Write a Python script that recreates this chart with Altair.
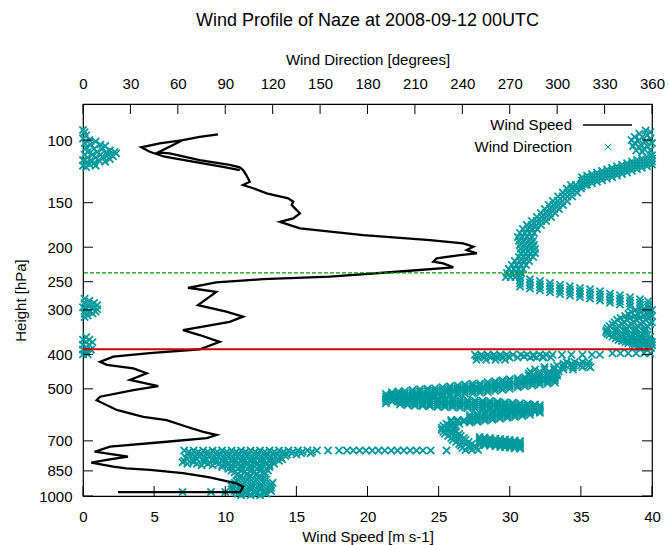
import altair as alt
import pandas as pd

FONT = "Liberation Sans"
TEAL = "#009a9e"

# ---------------- axis tick values ----------------
SPEED_TICKS = [0, 5, 10, 15, 20, 25, 30, 35, 40]
DIR_TICKS = [0, 30, 60, 90, 120, 150, 180, 210, 240, 270, 300, 330, 360]
PRESSURE_TICKS = [100, 150, 200, 250, 300, 400, 500, 700, 850, 1000]

# ---------------- reference levels (hPa) ----------------
GREEN_LEVEL = [236]
RED_LEVEL = [387]

# ---------------- wind speed profile, in sounding order ----------------
SPEED_P = [975, 975, 962, 942, 921, 886, 863, 845, 836, 827, 806, 792, 775, 751, 727,
           704, 688, 674, 660, 639, 612, 599, 573, 538, 526, 504, 491, 472, 452, 438,
           428, 420, 406, 397, 387, 369, 353, 342, 324, 313.5, 303.5, 291, 267, 260, 251,
           246, 242, 234.4, 227.8, 222, 219.7, 215, 210.4, 208.2, 203.7, 199.4, 195.1, 191, 185,
           177, 173.3, 169.7, 166, 160.7, 152.3, 149, 145.8, 141.2, 136.6, 133.8, 131, 125.4,
           121.4, 119.3, 117.5, 113.8, 109, 108.3, 100, 97.9, 96.4, 97.9, 100, 102.2, 104.8,
           107.9, 111.4, 115, 118.9, 121.4]
SPEED_V = [2.46, 11.04, 11.13, 11.25, 10.78, 8.91, 7.03, 4.71, 3.04, 2.13, 0.58, 1.67, 3.16, 0.82, 1.90,
           5.88, 8.70, 9.40, 8.46, 7.29, 5.88, 4.24, 2.37, 0.96, 1.20, 3.54, 5.29, 3.30, 4.48, 3.54,
           1.67, 1.20, 2.13, 4.69, 8.22, 9.61, 8.20, 7.03, 10.31, 11.25, 10.07, 8.08, 9.37, 7.38, 9.37,
           12.65, 17.36, 22.05, 26.03, 25.33, 24.63, 24.86, 26.50, 27.68, 26.97, 27.44, 26.73, 24.39, 19.70,
           15.25, 14.55, 13.85, 14.78, 15.25, 14.67, 14.78, 14.43, 12.91, 11.97, 11.25, 11.72, 11.48,
           11.25, 11.02, 10.31, 8.20, 6.09, 5.27, 7.03, 8.20, 9.49, 8.20, 7.03, 5.39, 4.10,
           4.69, 5.74, 7.73, 9.84, 11.02]

# ---------------- wind direction samples ----------------
# pairs: (pressure hPa, direction deg)
DIR_TOP_LEFT = [(93.7, 0), (95, 1), (97, 2), (99, 0), (100, 4), (101, 8), (102, 1), (103, 5), (103, 11),
                (104, 14), (105, 2), (106, 7), (106, 12), (107, 17), (108, 3), (108, 9), (108, 15),
                (108, 20), (109, 21), (110, 1), (110, 6), (110, 11), (110, 16), (111, 19), (112, 3),
                (112, 8), (112, 13), (113, 17), (114, 0), (114, 5), (114, 10), (115, 14), (116, 2),
                (116, 7), (117, 4), (118, 0), (118, 8), (119, 2)]
DIR_TOP_RIGHT = [(94, 356), (95, 359), (96, 352), (97, 357), (98, 349), (98, 354), (99, 359), (100, 347),
                 (100, 352), (101, 356), (102, 349), (102, 360), (103, 353), (104, 348), (104, 357),
                 (105, 352), (106, 355), (107, 350), (107, 359), (108, 354)]
DIR_WRAP_300 = [(279, 1), (283, 4), (287, 1), (287, 7), (291, 3), (291, 9), (295, 0), (295, 6), (299, 2),
                (299, 9), (303, 4), (303, 8), (307, 1), (307, 6), (311, 3), (314, 1)]
DIR_LEFT_380 = [(358, 2), (364, 0), (364, 4), (370, 2), (370, 6), (376, 0), (376, 4), (382, 2), (388, 0),
                (388, 5), (394, 2), (400, 0), (400, 3)]

# columns: (direction deg, [pressures hPa])
DIR_BAND_UPPER = [
    (360.0, [110.4, 112.7, 114.9, 117.2]), (356.8, [111.6, 113.9, 116.2, 118.5]),
    (353.6, [112.6, 114.9, 117.3, 119.6]), (350.5, [113.8, 116.1, 118.5, 120.8]),
    (347.3, [114.8, 117.2, 119.6, 122.0]), (344.2, [116.1, 118.5, 120.9, 123.3]),
    (341.0, [117.3, 119.7, 122.1, 124.5]), (337.8, [118.4, 120.9, 123.3, 125.8]),
    (334.7, [119.7, 122.2, 124.6, 127.1]), (331.5, [120.9, 123.4, 125.8, 128.3]),
    (328.4, [122.1, 124.6, 127.2, 129.7]), (325.2, [123.3, 125.8, 128.4, 130.9]),
    (322.0, [124.5, 127.1, 129.7, 132.3]), (318.9, [125.8, 128.4, 131.0, 133.6]),
    (315.7, [127.2, 129.8, 132.4, 135.0])]
DIR_BAND_RETURN = [
    (276.5, [243.0, 248.0, 253.0, 258.0]), (282.8, [246.0, 251.1, 256.1, 261.2]),
    (289.1, [248.9, 254.0, 259.2, 264.3]), (295.5, [252.1, 257.3, 262.5, 267.7]),
    (301.8, [255.0, 260.3, 265.5, 270.8]), (308.1, [257.5, 262.8, 268.2, 273.5]),
    (314.4, [260.2, 265.5, 270.9, 276.2]), (320.8, [262.6, 268.0, 273.4, 278.8]),
    (327.1, [266.1, 271.6, 277.0, 282.5]), (333.4, [269.7, 275.2, 280.8, 286.3]),
    (339.7, [273.0, 278.6, 284.2, 289.8]), (346.1, [276.5, 282.2, 287.9, 293.6]),
    (352.4, [280.1, 285.9, 291.7, 297.5]), (357.5, [283.8, 289.7, 295.5, 301.4])]
DIR_DIAG_500 = [
    (298.6, [452, 459, 466, 473, 480]), (294, [455, 462, 469, 476, 483]), (289, [458, 465, 472, 479, 486]),
    (284.3, [461, 468, 475, 482, 489]), (279.6, [464, 471, 478, 485, 492]), (275, [467, 474, 481, 488, 495]),
    (270, [470, 477, 485, 492, 500]), (265.4, [473, 480, 488, 495, 503]), (260.7, [476, 483, 491, 498, 506]),
    (256, [479, 487, 494, 502, 510]), (251.2, [483, 490, 498, 505, 513]), (246.5, [484, 492, 500, 507, 515]),
    (241.7, [486, 494, 501, 509, 516]), (237, [489, 497, 504, 512, 519]), (232.2, [492, 500, 507, 515, 522]),
    (227.5, [495, 503, 510, 518, 525]), (222.7, [498, 506, 513, 521, 528]), (218, [500, 507, 515, 523, 531]),
    (213.2, [501, 509, 517, 525, 533]), (208.5, [504, 512, 520, 528, 536]), (203.7, [507, 515, 523, 531, 539]),
    (199.6, [509, 517, 525, 533, 541]), (195.5, [511, 519, 527, 535, 543]), (191.7, [517, 525, 533, 541, 549])]
DIR_BAND_550 = [
    (200.6, [527, 534, 540, 546, 553]), (205.3, [529, 536, 542, 548, 555]), (210, [530, 537, 544, 551, 558]),
    (214.8, [531, 538, 545, 552, 559]), (219.5, [532, 539, 546, 553, 560]), (224.3, [533, 540, 547, 554, 561]),
    (229, [534, 541, 548, 555, 562]), (233.8, [535, 542, 549, 556, 563]), (238.5, [537, 544, 551, 558, 565]),
    (243.3, [538, 545, 552, 559, 566]), (248, [539, 546, 553, 560, 567]), (252.8, [540, 547, 554, 561, 568]),
    (257.5, [541, 548, 555, 562, 569]), (262.3, [543, 550, 557, 564, 571]), (267, [545, 552, 559, 566, 573]),
    (271.8, [547, 554, 561, 568, 575]), (276.5, [549, 556, 563, 570, 577]), (281.3, [551, 558, 565, 572, 579]),
    (286, [553, 560, 567, 574, 581]), (289, [556, 563, 570, 577, 584])]
DIR_BAND_600 = [
    (282.8, [563, 570, 577, 584, 591]), (278, [566, 574, 581, 588, 596]), (273.3, [570, 577, 585, 592, 600]),
    (268.5, [573, 581, 588, 596, 603]), (263.8, [577, 585, 592, 600, 607]), (259, [581, 589, 596, 604, 611]),
    (254.3, [585, 592, 600, 608, 615]), (249.5, [588, 596, 603, 611, 619]), (244.8, [592, 600, 607, 615, 622])]
DIR_BAND_710 = [
    (251, [683, 691, 700, 708, 717]), (254, [685, 693, 702, 711, 720]), (257.5, [687, 696, 705, 714, 723]),
    (261, [690, 699, 708, 716, 725]), (264, [692, 701, 710, 719, 728]), (267, [694, 703, 712, 721, 730]),
    (270, [696, 705, 714, 723, 732]), (273, [698, 707, 716, 725, 734]), (276.5, [701, 710, 719, 728, 737])]

# rows: (pressure hPa, [directions deg])
DIR_BAND_TURN = [
    (133.8, [308.7, 311.7, 314.7, 317.7]), (136.9, [306.1, 309.1, 312.1, 315.1]),
    (140.5, [303.6, 306.6, 309.6, 312.6]), (144.1, [300.5, 303.5, 306.5, 309.5]),
    (148.4, [297.3, 300.3, 303.3, 306.3]), (152.3, [294.7, 297.7, 300.7, 303.7]),
    (156.3, [292.2, 295.2, 298.2, 301.2]), (160.4, [289.7, 292.7, 295.7, 298.7]),
    (164.5, [287.2, 290.2, 293.2, 296.2]), (168.9, [284.0, 287.0, 290.0, 293.0]),
    (173.3, [280.8, 283.8, 286.8, 289.8]), (177.8, [278.3, 281.3, 284.3, 287.3]),
    (182.5, [276.4, 279.4, 282.4, 285.4]), (187.3, [275.1, 278.1, 281.1, 284.1]),
    (192.2, [275.8, 278.8, 281.8, 284.8]), (197.2, [276.4, 279.4, 282.4, 285.4]),
    (202.4, [277.0, 280.0, 283.0, 286.0]), (207.7, [277.0, 280.0, 283.0, 286.0]),
    (213.2, [275.8, 278.8, 281.8, 284.8]), (218.7, [273.2, 276.2, 279.2, 282.2]),
    (224.5, [271.3, 274.3, 277.3, 280.3]), (230.3, [269.4, 272.4, 275.4, 278.4]),
    (236.3, [268.2, 271.2, 274.2, 277.2]), (242.6, [267.5, 270.5, 273.5, 276.5])]
DIR_RIGHT_350 = [
    (300, [349.6, 355.6, 360]), (304, [347, 353, 359]), (308, [345.1, 351.1, 357.1]),
    (312, [343, 349, 355, 360]), (316, [340.1, 346.1, 352.1, 358.1]), (320, [338, 344, 350, 356]),
    (325, [336.3, 342.3, 348.3, 354.3, 360]), (329, [335, 341, 347, 353, 359]),
    (333, [333.1, 339.1, 345.1, 351.1, 357.1]), (338, [332, 338, 344, 350, 356]),
    (342, [331.2, 337.2, 343.2, 349.2, 355.2]), (346, [331, 337, 343, 349, 355]),
    (350, [331.8, 337.8, 343.8, 349.8, 355.8]), (353, [333, 339, 345, 351, 357]),
    (357, [335.0, 341.0, 347.0, 353.0, 359.0]), (361, [337, 343, 349, 355]),
    (364.5, [338.8, 344.8, 350.8, 356.8]), (367, [341, 347, 353, 359]),
    (369.5, [343.2, 349.2, 355.2, 360]), (372, [345, 351, 357]), (374, [347.7, 353.7, 359.7]),
    (377, [349, 355, 360]), (379, [351.5, 357.5]), (382, [352, 358]), (384, [353.4, 359.4])]
DIR_ROWS_MID = [
    (397, [335, 340, 345, 350, 355, 359]),
    (401, [248, 252, 256, 260, 264, 268, 272, 277, 281, 285, 289, 293, 297, 303, 309, 316, 322, 327]),
    (405, [249, 253, 257, 261, 265, 269, 279, 285, 291]),
    (408, [250, 254, 258, 262, 266, 270, 275, 283, 287, 291, 296]),
    (414, [249, 255, 261, 267]),
    (420, [306, 311, 316, 320]),
    (425, [304, 309, 314, 319]),
    (430, [300, 305, 310, 315, 320]),
    (435, [292, 298, 304, 310, 316, 321]),
    (441, [286, 292, 298, 304, 310]),
    (447, [283, 289, 295, 301]),
    (453, [282, 288, 294, 300]),
    (459, [282, 288, 294, 300]),
    (465, [283, 289, 295]),
    (470, [284, 290, 297]),
    (612, [233, 237, 241, 245]), (619, [233, 237, 241]), (627, [230, 234, 238]), (635, [228, 232, 236]),
    (643, [227, 231, 235]), (652, [227, 231, 235]), (660, [228, 232, 236]), (669, [229, 233.5, 238]),
    (678, [231, 235, 239]), (687, [233, 237, 241]), (696, [234, 238, 242]), (705, [236, 240, 244]),
    (714, [238, 242, 246]), (723, [239, 244, 248]), (733, [240, 245, 249]), (743, [242, 246, 250])]
DIR_ROWS_LOW = [
    (745, [64, 70, 76, 82, 88, 94, 100, 106, 112, 118, 124, 130, 136, 142, 148, 155, 162, 167, 171, 175,
           179, 183, 187, 191, 195, 199, 203, 207, 211, 215, 220, 230]),
    (751, [67, 73, 79, 85, 91, 97, 103, 109, 115, 121, 127, 133, 139, 145]),
    (758, [66, 72, 78, 84, 90, 96, 102, 108, 114, 120, 126, 132, 138, 144]),
    (765, [69, 75, 81, 87, 93, 99, 105, 111, 117, 123, 129, 135]),
    (772, [68, 74, 80, 86, 92, 98, 104, 110, 116, 122, 128]),
    (780, [65, 71, 77, 83, 89, 95, 101, 107, 113, 119, 125]),
    (788, [66, 72, 78, 84, 90, 96, 102, 108, 114, 120, 126]),
    (796, [64, 70, 76, 82, 88, 94, 100, 106, 112, 118, 124]),
    (804, [63, 70, 77, 84, 90, 96, 102, 108, 114, 120]),
    (812, [66, 72, 79, 86, 92, 98, 104, 110, 116, 121]),
    (820, [75, 82, 88, 94, 100, 106, 112, 118]),
    (829, [88, 94, 100, 106, 112, 118]),
    (838, [92, 98, 104, 110, 116]),
    (848, [94, 100, 106, 112, 117]),
    (858, [96, 102, 108, 114]),
    (868, [98, 104, 110, 115]),
    (878, [100, 106, 112]),
    (888, [99, 105, 111, 115]),
    (898, [98, 104, 110, 116]),
    (908, [97, 103, 109, 115]),
    (918, [96, 102, 108, 114, 120]),
    (928, [95, 101, 107, 113, 119]),
    (938, [94, 100, 106, 112, 118]),
    (948, [95, 101, 107, 113, 119]),
    (958, [94, 100, 106, 112, 118]),
    (968, [96, 102, 108, 114, 119]),
    (974, [63, 81, 90, 97]),
    (978, [103, 109, 115]),
    (986, [98, 104, 110, 116]),
    (995, [100, 106, 112])]

# ---------------- build tables ----------------
rows = []
for pts in [DIR_TOP_LEFT, DIR_TOP_RIGHT, DIR_WRAP_300, DIR_LEFT_380]:
    for p, d in pts:
        rows.append({"p": p, "d": d})
for grp in [DIR_BAND_UPPER, DIR_BAND_RETURN, DIR_DIAG_500, DIR_BAND_550, DIR_BAND_600, DIR_BAND_710]:
    for d, ps in grp:
        for p in ps:
            rows.append({"p": p, "d": d})
for grp in [DIR_BAND_TURN, DIR_RIGHT_350, DIR_ROWS_MID, DIR_ROWS_LOW]:
    for p, ds in grp:
        for d in ds:
            rows.append({"p": p, "d": d})
dir_df = pd.DataFrame(rows)
speed_df = pd.DataFrame({"i": list(range(len(SPEED_P))), "p": SPEED_P, "s": SPEED_V})

W, H = 569, 392
yscale = alt.Scale(type="log", domain=[79.2, 1000], reverse=True, nice=False)
sscale = alt.Scale(domain=[0, 40], nice=False)
dscale = alt.Scale(domain=[0, 360], nice=False)

PAXIS = alt.Axis(orient="left", values=PRESSURE_TICKS, title="Height [hPa]", format="d",
                 labelPadding=11, titlePadding=10, labelFontSize=15, titleFontSize=15)

XSHAPE = "M-1,-1L1,1M-1,1L1,-1"

points = alt.Chart(dir_df).mark_point(
    shape=XSHAPE, size=52, color=TEAL, filled=False, strokeWidth=1.8, opacity=1
).encode(
    x=alt.X("d:Q", scale=dscale,
            axis=alt.Axis(orient="top", values=DIR_TICKS, title="Wind Direction [degrees]",
                          labelPadding=13, titlePadding=9, labelFlush=False, labelOverlap=False)),
    y=alt.Y("p:Q", scale=yscale, axis=PAXIS),
)

line = alt.Chart(speed_df).mark_line(color="black", strokeWidth=2.3).encode(
    x=alt.X("s:Q", scale=sscale,
            axis=alt.Axis(orient="bottom", values=SPEED_TICKS, title="Wind Speed [m s-1]",
                          labelPadding=13, titlePadding=5, labelFlush=False, labelOverlap=False)),
    y=alt.Y("p:Q", scale=yscale, axis=PAXIS),
    order="i:Q",
)

green = alt.Chart(pd.DataFrame({"p": GREEN_LEVEL})).mark_rule(
    color="#009900", strokeDash=[4, 2], strokeWidth=1.2
).encode(y=alt.Y("p:Q", scale=yscale, axis=PAXIS))

red = alt.Chart(pd.DataFrame({"p": RED_LEVEL})).mark_rule(
    color="#cc0000", strokeWidth=2
).encode(y=alt.Y("p:Q", scale=yscale, axis=PAXIS))

# inward ticks (gnuplot style)
bt = alt.Chart(pd.DataFrame({"s": SPEED_TICKS})).mark_rule(color="black", strokeWidth=1).encode(
    x=alt.X("s:Q", scale=sscale, axis=None), y=alt.value(H), y2=alt.value(H - 10))
tt = alt.Chart(pd.DataFrame({"d": DIR_TICKS})).mark_rule(color="black", strokeWidth=1).encode(
    x=alt.X("d:Q", scale=dscale, axis=None), y=alt.value(0), y2=alt.value(10))
lt = alt.Chart(pd.DataFrame({"p": PRESSURE_TICKS})).mark_rule(color="black", strokeWidth=1).encode(
    y=alt.Y("p:Q", scale=yscale, axis=PAXIS), x=alt.value(0), x2=alt.value(10))
rt = alt.Chart(pd.DataFrame({"p": PRESSURE_TICKS})).mark_rule(color="black", strokeWidth=1).encode(
    y=alt.Y("p:Q", scale=yscale, axis=PAXIS), x=alt.value(W - 10), x2=alt.value(W))

# legend (labels to the left of their samples, as in gnuplot)
leg1 = alt.Chart(pd.DataFrame({"t": ["Wind Speed"]})).mark_text(
    align="right", baseline="middle", font=FONT, fontSize=15, color="black"
).encode(text="t:N", x=alt.value(489), y=alt.value(21))
leg2 = alt.Chart(pd.DataFrame({"t": ["Wind Direction"]})).mark_text(
    align="right", baseline="middle", font=FONT, fontSize=15, color="black"
).encode(text="t:N", x=alt.value(489), y=alt.value(43))
leg_line = alt.Chart(pd.DataFrame({"t": ["Wind Speed"]})).mark_rule(color="black", strokeWidth=1.5).encode(
    x=alt.value(500), x2=alt.value(549), y=alt.value(21))
leg_pt = alt.Chart(pd.DataFrame({"t": ["Wind Direction"]})).mark_point(
    shape=XSHAPE, size=42, color=TEAL, filled=False, strokeWidth=1, opacity=1
).encode(x=alt.value(525), y=alt.value(43))

chart = alt.layer(points, line, green, red, bt, tt, lt, rt, leg1, leg2, leg_line, leg_pt).resolve_scale(
    x="independent"
).properties(
    width=W, height=H,
    title=alt.TitleParams("Wind Profile of Naze at 2008-09-12 00UTC", font=FONT, fontSize=18,
                          fontWeight="normal", anchor="middle", offset=22, color="black"),
    autosize=alt.AutoSizeParams(type="none"),
    padding={"left": 83, "top": 104, "right": 17, "bottom": 49},
).configure_view(stroke="black", strokeWidth=1.2).configure_axis(
    grid=False, domain=False, ticks=False, tickSize=0, labelFont=FONT, titleFont=FONT,
    labelFontSize=15, titleFontSize=15, labelColor="black", titleColor="black",
    titleFontWeight="normal"
)

chart.save("out.html", embed_options={"renderer": "svg", "actions": False})
